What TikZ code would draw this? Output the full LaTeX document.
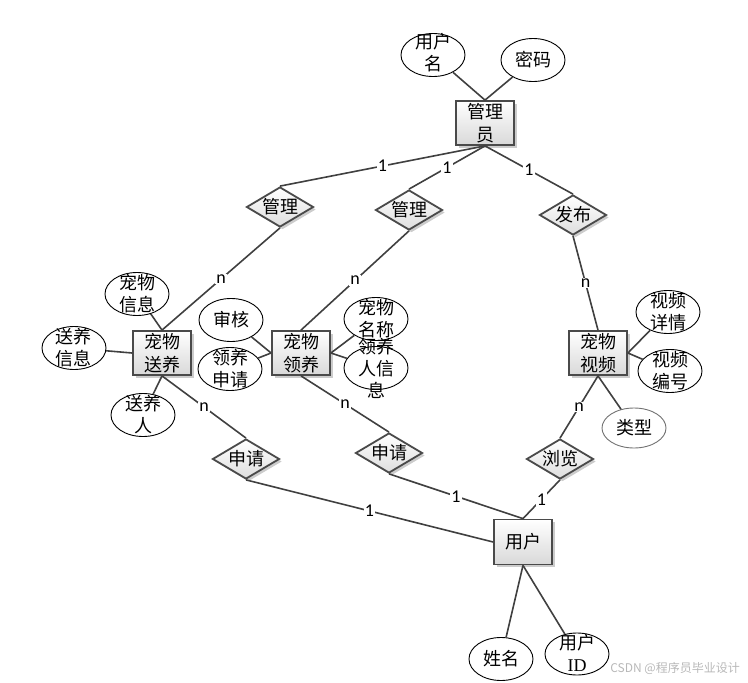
\documentclass[tikz,border=0pt]{standalone}
\usepackage{fontspec}
\setmainfont{Liberation Serif}
\newfontfamily\cjk{Noto Sans CJK SC}
\newfontfamily\labfont{Carlito}
\newfontfamily\tnr{Liberation Serif}
\usetikzlibrary{shapes.geometric,shadows}
\definecolor{edgec}{HTML}{404040}
\definecolor{boxline}{HTML}{4A4A4A}
\begin{document}
\begin{tikzpicture}[x=1pt,y=-1pt,
  shad/.style={drop shadow={shadow xshift=2.5pt,shadow yshift=-2.5pt,opacity=0.2,fill=black}},
  ent/.style={rectangle,draw=boxline,line width=1.8pt,top color=white,bottom color=black!15,shad,
    minimum width=58pt,minimum height=44pt,inner sep=0pt,align=center,
    font=\cjk\fontsize{18}{23}\selectfont},
  rel/.style={diamond,draw=boxline,line width=1.8pt,top color=white,bottom color=black!13,shad,
    minimum width=67pt,minimum height=40pt,inner sep=0pt,aspect=1.7,
    font=\cjk\fontsize{18}{23}\selectfont},
  attr/.style={ellipse,draw=black,line width=0.9pt,fill=white,minimum width=64pt,minimum height=43pt,inner sep=0pt},
  atxt/.style={align=center,inner sep=0pt,font=\cjk\fontsize{18}{22}\selectfont},
  conn/.style={draw=edgec,line width=1.6pt},
  card/.style={fill=white,inner sep=1pt,font=\labfont\fontsize{18}{18}\selectfont}
]
\useasboundingbox (0,0) rectangle (748,683);

% entities
\node[ent] (mgr)  at (485,123) {管理\\员};
\node[ent] (ps)   at (162,353) {宠物\\送养};
\node[ent] (pa)   at (301,353) {宠物\\领养};
\node[ent] (pv)   at (598,353) {宠物\\视频};
\node[ent, minimum height=45pt] (user) at (523,542) {用户};

% relationships
\node[rel] (r1) at (280,207) {管理};
\node[rel] (r2) at (409,210) {管理};
\node[rel] (r3) at (573,215) {发布};
\node[rel] (r4) at (246,459) {申请};
\node[rel] (r5) at (389,453) {申请};
\node[rel] (r6) at (560,459) {浏览};

% attributes
\node[attr] (aun) at (433,55) {};
\node[attr] (apw) at (533,60) {};
\node[attr] (api) at (137,294) {};
\node[attr] (asi) at (74,348) {};
\node[attr] (asr) at (143,415) {};
\node[attr] (ash) at (231,320) {};
\node[attr] (als) at (230,369) {};
\node[attr] (amc) at (376,319) {};
\node[attr] (alr) at (376,368) {};
\node[attr] (avd) at (668,312) {};
\node[attr] (avn) at (670,371) {};
\node[attr, draw=black!55, minimum height=40pt] (alx) at (634,428) {};
\node[attr] (axm) at (501,659) {};
\node[attr, minimum height=42pt] (aid) at (577,654) {};

\node[atxt] at (433,53) {用户\\名};
\node[atxt] at (apw) {密码};
\node[atxt] at (api) {宠物\\信息};
\node[atxt] at (asi) {送养\\信息};
\node[atxt] at (asr) {送养\\人};
\node[atxt] at (ash) {审核};
\node[atxt] at (als) {领养\\申请};
\node[atxt] at (amc) {宠物\\名称};
\node[atxt] at (alr) {领养\\人信\\息};
\node[atxt] at (avd) {视频\\详情};
\node[atxt] at (avn) {视频\\编号};
\node[atxt] at (alx) {类型};
\node[atxt] at (axm) {姓名};
\node[atxt] at (577,653) {用户\\{\tnr ID}};

% attribute connectors
\draw[conn] (mgr.north) -- (aun);
\draw[conn] (mgr.north) -- (apw);
\draw[conn] (ps.north) -- (api);
\draw[conn] (ps.west) -- (asi);
\draw[conn] (ps.south) -- (asr);
\draw[conn] (pa.west) -- (ash);
\draw[conn] (pa.west) -- (als);
\draw[conn] (pa.east) -- (amc);
\draw[conn] (pa.east) -- (alr);
\draw[conn] (pv.east) -- (avd);
\draw[conn] (pv.east) -- (avn);
\draw[conn] (pv.south) -- (alx);
\draw[conn] (user.south) -- (axm);
\draw[conn] (user.south) -- (aid);

% relationship connectors
\draw[conn] (mgr.south) -- node[card] {1} (r1.north);
\draw[conn] (mgr.south) -- node[card] {1} (r2.north);
\draw[conn] (mgr.south) -- node[card] {1} (r3.north);
\draw[conn] (ps.north) -- node[card] {n} (r1.south);
\draw[conn] (pa.north) -- node[card] {n} (r2.south);
\draw[conn] (pv.north) -- node[card] {n} (r3.south);
\draw[conn] (ps.south) -- node[card] {n} (r4.north);
\draw[conn] (pa.south) -- node[card] {n} (r5.north);
\draw[conn] (pv.south) -- node[card] {n} (r6.north);
\draw[conn] (r4.south) -- node[card] {1} (user.west);
\draw[conn] (r5.south) -- node[card] {1} (user.north);
\draw[conn] (r6.south) -- node[card] {1} (user.north);

% watermark
\node[anchor=east, inner sep=0pt, text=black!28, font=\cjk\fontsize{12}{12}\selectfont] (wm) at (740,668) {CSDN @程序员毕业设计};
\end{tikzpicture}
\end{document}
